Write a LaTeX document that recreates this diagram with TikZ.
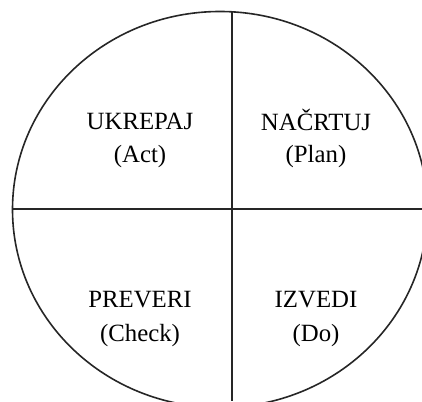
\documentclass[tikz,border=0pt]{standalone}
\usepackage{fontspec}
\setmainfont{Liberation Serif}
\tikzset{
  phase/.style={font=\fontsize{12.4}{14}\selectfont,anchor=base,inner sep=0pt},
  axis/.style={line width=1pt,black!85}
}
\begin{document}
\begin{tikzpicture}[x=0.5pt,y=0.5pt]
\clip(0,0)rectangle(422,401);
\draw[line width=0.8pt,black!85](220,191.5) ellipse[x radius=207.5,y radius=198];
\coordinate(N) at (232,389.5);
\coordinate(S) at (232,0);
\coordinate(W) at (12.5,191.5);
\coordinate(E) at (422,191.5);
\draw[axis](N)--(S);
\draw[axis](W)--(E);
% quadrants
\node[phase](ukrepaj) at (140,271){UKREPAJ};
\node[phase](act) at (140,238){(Act)};
\node[phase](nacrtuj) at (316,270){NAČRTUJ};
\node[phase](plan) at (316,238){(Plan)};
\node[phase](preveri) at (140,93){PREVERI};
\node[phase](check) at (140,60){(Check)};
\node[phase](izvedi) at (316,93){IZVEDI};
\node[phase](do) at (316,60){(Do)};
\end{tikzpicture}
\end{document}
